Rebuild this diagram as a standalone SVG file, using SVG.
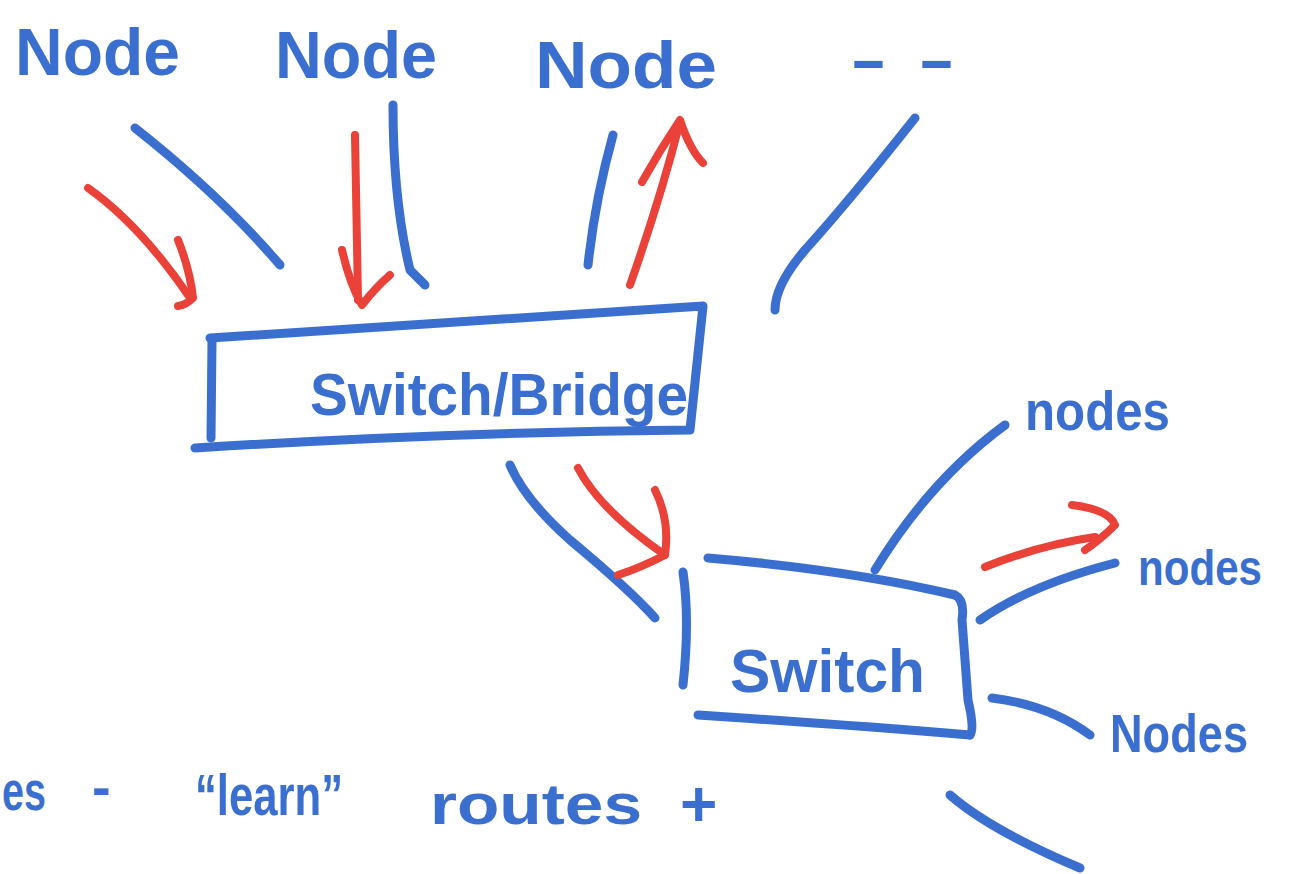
<svg xmlns="http://www.w3.org/2000/svg" width="1291" height="874" viewBox="0 0 1291 874">
<style>
.t{font-family:"Liberation Sans",Arial,sans-serif;font-weight:bold;fill:#3a6fd0}
.b{fill:none;stroke:#3a6fd0;stroke-width:9;stroke-linecap:round;stroke-linejoin:round}
.r{fill:none;stroke:#ea4138;stroke-width:8;stroke-linecap:round;stroke-linejoin:round}
</style>
<rect width="1291" height="874" fill="#ffffff"/>
<g id="node1"><text class="t" x="15" y="75" font-size="66" textLength="165" lengthAdjust="spacingAndGlyphs">Node</text></g>
<g id="node2"><text class="t" x="275" y="78" font-size="66" textLength="162" lengthAdjust="spacingAndGlyphs">Node</text></g>
<g id="node3"><text class="t" x="535" y="88" font-size="66" textLength="182" lengthAdjust="spacingAndGlyphs">Node</text></g>
<g id="node4"><text class="t" x="850" y="80" font-size="60" textLength="105" lengthAdjust="spacingAndGlyphs">- -</text></g>
<g id="switchbridge">
<path class="b" d="M210,338 Q450,322 703,306 L690,430 Q450,432 195,448"/>
<path class="b" d="M212,340 L211,438"/>
<text class="t" x="310" y="415" font-size="60" textLength="378" lengthAdjust="spacingAndGlyphs">Switch/Bridge</text>
</g>
<g id="switch">
<path class="b" d="M708,558 Q850,570 955,595 Q965,600 962,620 L968,700 Q975,730 970,735"/>
<path class="b" d="M698,715 Q850,725 970,735"/>
<path class="b" d="M683,572 Q690,620 683,685"/>
<text class="t" x="730" y="692" font-size="62" textLength="195" lengthAdjust="spacingAndGlyphs">Switch</text>
</g>
<g id="nodes1"><text class="t" x="1025" y="430" font-size="56" textLength="145" lengthAdjust="spacingAndGlyphs">nodes</text></g>
<g id="nodes2"><text class="t" x="1138" y="585" font-size="50" textLength="124" lengthAdjust="spacingAndGlyphs">nodes</text></g>
<g id="nodes3"><text class="t" x="1110" y="752" font-size="54" textLength="138" lengthAdjust="spacingAndGlyphs">Nodes</text></g>
<g id="note">
<text class="t" x="2" y="810" font-size="56" textLength="44" lengthAdjust="spacingAndGlyphs">es</text>
<text class="t" x="92" y="806" font-size="56">-</text>
<text class="t" x="195" y="815" font-size="58" textLength="148" lengthAdjust="spacingAndGlyphs">“learn”</text>
<text class="t" x="430" y="824" font-size="58" textLength="212" lengthAdjust="spacingAndGlyphs">routes</text>
<text class="t" x="680" y="826" font-size="64">+</text>
</g>
<g id="connectors">
<path class="b" d="M135,128 Q220,195 280,265"/>
<path class="b" d="M393,105 Q393,200 410,270 L425,285"/>
<path class="b" d="M613,135 Q595,200 588,265"/>
<path class="b" d="M915,118 Q850,200 805,250 Q775,285 775,310"/>
<path class="b" d="M510,465 Q525,500 570,540 Q630,590 655,618"/>
<path class="b" d="M875,570 Q930,480 1005,425"/>
<path class="b" d="M980,620 Q1030,585 1115,563"/>
<path class="b" d="M992,698 Q1050,705 1090,735"/>
<path class="b" d="M950,795 Q990,830 1080,868"/>
<path class="r" d="M88,188 Q140,225 188,295"/>
<path class="r" d="M178,240 Q190,270 193,298 Q186,305 178,306"/>
<path class="r" d="M355,135 L358,300"/>
<path class="r" d="M342,250 Q350,285 362,305 Q375,288 390,275"/>
<path class="r" d="M630,285 Q660,200 680,122"/>
<path class="r" d="M642,182 Q660,150 680,120 Q690,150 703,163"/>
<path class="r" d="M578,468 Q600,510 665,555"/>
<path class="r" d="M655,490 Q670,520 665,555 Q640,568 618,575"/>
<path class="r" d="M985,567 Q1040,545 1095,537"/>
<path class="r" d="M1072,505 Q1110,510 1115,525 Q1100,540 1085,550"/>
</g>
</svg>
